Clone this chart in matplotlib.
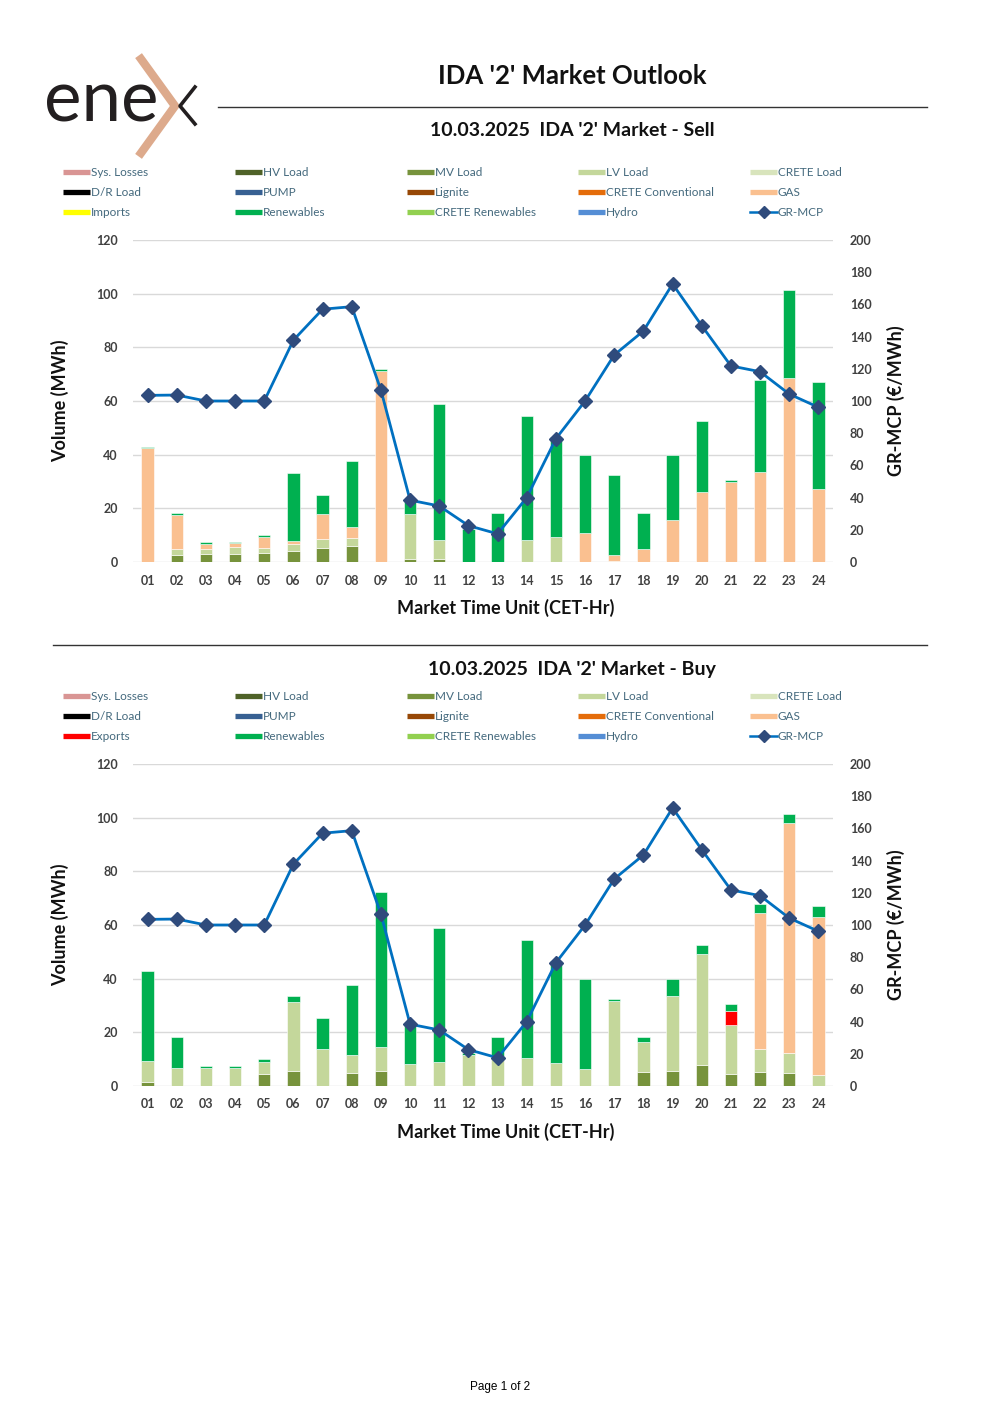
import numpy as np
import matplotlib.pyplot as plt
from matplotlib.lines import Line2D

plt.rcParams['font.family'] = ['Lato', 'DejaVu Sans']

# --- data ---
hours = [f"{h:02d}" for h in range(1, 25)]

gr_mcp = [103.5, 103.7, 100.0, 100.0, 100.0, 137.8, 157.0, 158.6, 106.8, 38.4, 34.8, 22.6,
          17.5, 40.0, 76.6, 100.0, 128.6, 143.5, 172.7, 146.8, 121.8, 118.2, 104.3, 96.1]

zeros = [0.0] * 24

# Sell side
sell_mv = [0, 2.7, 3.0, 3.1, 3.2, 4.1, 5.3, 6.1, 0, 1.2, 1.0, 0,
           0, 0, 0, 0, 0, 0, 0, 0, 0, 0, 0, 0]
sell_lv = [0, 2.3, 2.0, 2.4, 2.1, 2.7, 3.3, 2.8, 0, 16.7, 7.2, 0,
           0, 8.1, 9.2, 0, 0.3, 0, 0, 0, 0, 0, 0, 0]
sell_gas = [42.5, 12.6, 1.8, 1.5, 4.1, 1.0, 9.3, 4.0, 71.1, 0, 0, 0,
            0, 0, 0, 10.9, 2.4, 5.0, 15.8, 26.1, 29.7, 33.4, 68.4, 27.1]
sell_ren = [0.5, 0.5, 0.7, 0.5, 0.7, 25.5, 7.2, 24.6, 0.9, 5.6, 50.7, 12.4,
            18.3, 46.2, 37.4, 28.9, 29.6, 13.1, 24.1, 26.3, 0.9, 34.4, 33.0, 40.1]

# Buy side
buy_mv = [1.6, 0, 0, 0, 4.6, 5.6, 0, 4.7, 5.6, 0, 0, 0,
          0, 0, 0, 0, 0, 5.3, 5.5, 7.8, 4.5, 5.2, 5.0, 0]
buy_lv = [7.6, 6.8, 6.8, 6.8, 4.2, 25.6, 13.8, 7.0, 9.1, 8.1, 8.8, 11.4,
          11.3, 10.6, 8.7, 6.5, 31.7, 11.1, 28.2, 41.3, 18.4, 8.5, 7.2, 4.1]
buy_gas = [0, 0, 0, 0, 0, 0, 0, 0, 0, 0, 0, 0,
           0, 0, 0, 0, 0, 0, 0, 0, 0, 50.8, 85.8, 59.0]
buy_exports = [0, 0, 0, 0, 0, 0, 0, 0, 0, 0, 0, 0,
               0, 0, 0, 0, 0, 0, 0, 0, 5.1, 0, 0, 0]
buy_ren = [33.7, 11.5, 0.8, 0.8, 1.3, 2.2, 11.5, 25.8, 57.5, 15.4, 50.1, 1.0,
           7.0, 43.7, 37.9, 33.3, 0.7, 1.9, 6.2, 3.4, 2.4, 3.3, 3.4, 4.1]

# stacking / legend order (third legend row starts with Imports or Exports)
sell_names = ['Sys. Losses', 'HV Load', 'MV Load', 'LV Load', 'CRETE Load',
              'D/R Load', 'PUMP', 'Lignite', 'CRETE Conventional', 'GAS',
              'Imports', 'Renewables', 'CRETE Renewables', 'Hydro']
buy_names = sell_names[:10] + ['Exports'] + sell_names[11:]
sell_colors = ['#D99594', '#4F6228', '#77933C', '#C4D79B', '#D8E4BC',
               '#000000', '#376092', '#974806', '#E46C0A', '#FAC090',
               '#FFFF00', '#00B050', '#92D050', '#558ED5']
buy_colors = sell_colors[:10] + ['#FF0000'] + sell_colors[11:]

sell_series = [zeros, zeros, sell_mv, sell_lv, zeros, zeros, zeros, zeros, zeros,
               sell_gas, zeros, sell_ren, zeros, zeros]
buy_series = [zeros, zeros, buy_mv, buy_lv, zeros, zeros, zeros, zeros, zeros,
              buy_gas, buy_exports, buy_ren, zeros, zeros]

W, H = 1000, 1415
fig = plt.figure(figsize=(10, 14.15), dpi=100)


def fx(x):
    return x / W


def fy(y):
    return 1 - y / H


def add_line(xs, ys, **kw):
    fig.add_artist(Line2D([fx(v) for v in xs], [fy(v) for v in ys],
                          transform=fig.transFigure, **kw))


# logo
fig.text(fx(44), fy(121), 'ene', fontsize=51, color='#231F20',
         va='baseline', ha='left')
add_line([141, 175, 141], [59, 106, 153], color='#DDAA8C', lw=6, solid_joinstyle='miter')
add_line([195, 180, 195], [87, 106, 124], color='#231F20', lw=2.6)

fig.text(fx(572), fy(76), "IDA '2' Market Outlook", fontsize=18.5, fontweight='bold',
         ha='center', va='center', color='#111111')
add_line([218, 927], [107, 107], color='#333333', lw=1.0)
add_line([53, 927], [645, 645], color='#333333', lw=1.0)

fig.text(fx(500), fy(1387), 'Page 1 of 2', fontsize=8.5, ha='center', va='center',
         family='Liberation Sans', color='#000000')


def draw_legend(top, names, colors):
    cols = [63, 235, 407, 578, 750]
    entries = [(n, c) for n, c in zip(names, colors)] + [('GR-MCP', None)]
    for i, (label, col) in enumerate(entries):
        r, c = divmod(i, 5)
        x0 = cols[c]
        y = top + r * 20
        if col is None:
            add_line([x0, x0 + 27], [y, y], color='#0070C0', lw=1.8)
            add_line([x0 + 13.5], [y], color='#2F4B7C', marker='D', ms=6, lw=0)
        else:
            add_line([x0, x0 + 27], [y, y], color=col, lw=3.8, solid_capstyle='butt')
        fig.text(fx(x0 + 28), fy(y), label, fontsize=8.5, color='#44697D',
                 ha='left', va='center')


def draw_panel(top, bottom, subtitle_y, subtitle, series, names, colors, legend_top):
    fig.text(fx(572), fy(subtitle_y), subtitle, fontsize=14, fontweight='bold',
             ha='center', va='center', color='#111111')
    draw_legend(legend_top, names, colors)

    ax = fig.add_axes([fx(133), fy(bottom), fx(833) - fx(133), fy(top) - fy(bottom)])
    x = np.arange(1, 25)
    base = np.zeros(24)
    for vals, col in zip(series, colors):
        vals = np.array(vals, dtype=float)
        if vals.sum() == 0:
            continue
        ax.bar(x, vals, bottom=base, width=0.42, color=col, edgecolor='white',
               linewidth=0.4, zorder=2)
        base += vals

    ax.set_xlim(0.5, 24.5)
    ax.set_ylim(0, 120)
    ax.set_yticks(range(0, 121, 20))
    ax.set_xticks(x)
    ax.set_xticklabels(hours)
    ax.grid(axis='y', color='#D9D9D9', lw=1.0, zorder=0)
    ax.set_axisbelow(True)
    for s in ax.spines.values():
        s.set_visible(False)
    ax.tick_params(length=0, labelsize=9, colors='#404040', pad=9)
    ax.tick_params(axis='y', pad=11)
    for t in ax.get_xticklabels() + ax.get_yticklabels():
        t.set_fontweight('bold')

    ax.set_xlabel('Market Time Unit (CET-Hr)', fontsize=13, fontweight='bold', color='#111111')
    ax.xaxis.set_label_coords((506 - 133) / 700, -(37 / (bottom - top)))
    ax.set_ylabel('Volume (MWh)', fontsize=13, fontweight='bold', color='#111111')
    ax.yaxis.set_label_coords((69 - 133) / 700, 0.5)

    ax2 = ax.twinx()
    ax2.plot(x, gr_mcp, color='#0070C0', lw=2.0, marker='D', ms=7.5,
             mfc='#2F4B7C', mec='#2F4B7C', zorder=3)
    ax2.set_ylim(0, 200)
    ax2.set_yticks(range(0, 201, 20))
    for s in ax2.spines.values():
        s.set_visible(False)
    ax2.tick_params(length=0, labelsize=9, colors='#404040', pad=12)
    for t in ax2.get_yticklabels():
        t.set_fontweight('bold')
    ax2.set_ylabel('GR-MCP (€/MWh)', fontsize=13, fontweight='bold', color='#111111')
    ax2.yaxis.set_label_coords((887 - 133) / 700, 0.5)


draw_panel(240, 562, 131, "10.03.2025  IDA '2' Market - Sell", sell_series,
           sell_names, sell_colors, 172)
draw_panel(764, 1086, 669, "10.03.2025  IDA '2' Market - Buy", buy_series,
           buy_names, buy_colors, 696)

fig.savefig('out.png', dpi=100, facecolor='white')
